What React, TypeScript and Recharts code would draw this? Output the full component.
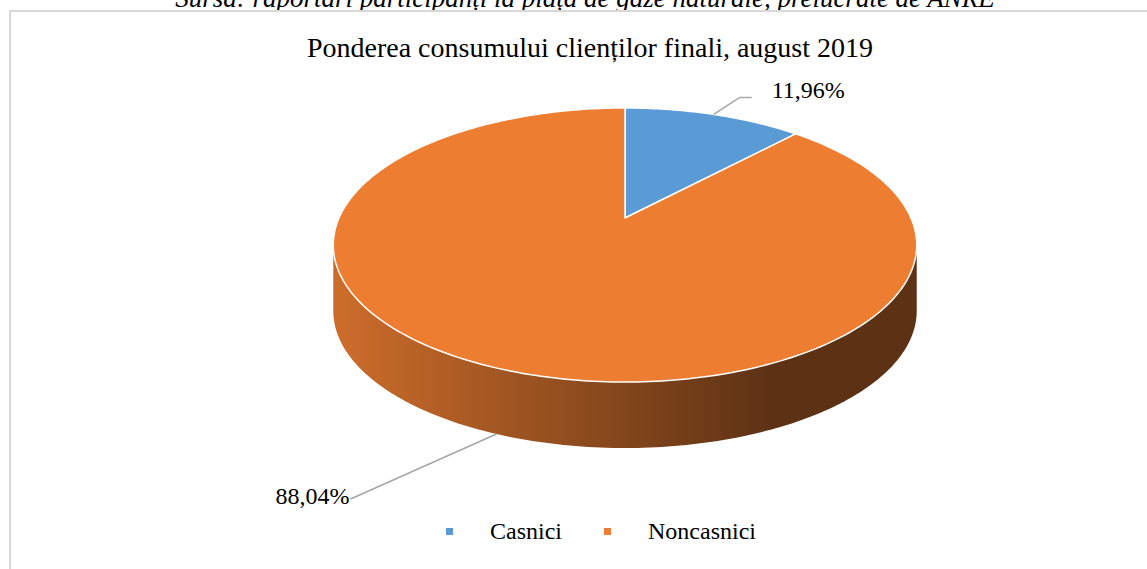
import React from 'react';
import { PieChart, Pie, Cell, Legend } from 'recharts';

const categories = ['Casnici', 'Noncasnici'];
const shares = [11.96, 88.04];
const sliceColors = ['#5b9bd5', '#ed7d31'];

const title = 'Ponderea consumului clienților finali, august 2019';
const source = 'Sursa: raportări participanți la piața de gaze naturale, prelucrate de ANRE';

const data = categories.map((name, i) => ({ name, value: shares[i] }));

const FONT = '"Liberation Serif", "Times New Roman", serif';

// the 3D pie is tilted and seen in perspective (near edge bigger than far edge)
const TILT = 0.4605;
const PERSP = 0.197;
const DEPTH = 66;

const project = (cx: number, cy: number, r: number, angle: number) => {
  const a = (angle * Math.PI) / 180;
  const u = Math.cos(a);
  const v = -Math.sin(a);
  const w = 1 - PERSP * v;
  return { x: cx + (r * u) / w, y: cy + (TILT * r * v) / w, v };
};

const arcPoints = (cx: number, cy: number, r: number, from: number, to: number, dy = 0) => {
  const n = Math.max(2, Math.ceil(Math.abs(to - from)));
  const pts: string[] = [];
  for (let i = 0; i <= n; i++) {
    const p = project(cx, cy, r, from + ((to - from) * i) / n);
    pts.push(`${p.x.toFixed(2)},${(p.y + dy).toFixed(2)}`);
  }
  return pts;
};

const TopFace = (props: any) => {
  const { cx, cy, outerRadius, startAngle, endAngle, fill } = props;
  const pts = arcPoints(cx, cy, outerRadius, startAngle, endAngle);
  return (
    <path
      d={`M${cx},${cy}L${pts.join('L')}Z`}
      fill={fill}
      stroke="#fff"
      strokeWidth={1.5}
      strokeLinejoin="round"
    />
  );
};

// front wall is visible between the two silhouette points of the rim
const SIL = (Math.asin(PERSP) * 180) / Math.PI;
const FRONT = [-180 + SIL, -SIL];

const SideWall = (props: any) => {
  const { cx, cy, outerRadius, startAngle, endAngle } = props;
  const lo = Math.min(startAngle, endAngle);
  const hi = Math.max(startAngle, endAngle);
  const parts: string[] = [];
  for (const shift of [-360, 0, 360]) {
    const a = Math.max(lo, FRONT[0] + shift);
    const b = Math.min(hi, FRONT[1] + shift);
    if (b > a) {
      const top = arcPoints(cx, cy, outerRadius, a, b);
      const bottom = arcPoints(cx, cy, outerRadius, b, a, DEPTH);
      parts.push(`M${top.join('L')}L${bottom.join('L')}Z`);
    }
  }
  if (!parts.length) return <g />;
  return <path d={parts.join('')} fill="url(#sideShade)" />;
};

// leader line: elbow offset, end offset, text offset, anchor
const leaders = [
  { elbow: [26, -17], end: [38, -17], text: [58, -24], anchor: 'start' },
  { elbow: [-146, 65], end: [-146, 65], text: [-147, 62], anchor: 'end' },
];

const renderLabel = (props: any) => {
  const { cx, cy, midAngle, outerRadius, index, value } = props;
  const p = project(cx, cy, outerRadius, midAngle);
  const x0 = p.x;
  const y0 = p.v > 0 ? p.y + DEPTH : p.y;
  const l = leaders[index];
  const pts = [
    [x0, y0],
    [x0 + l.elbow[0], y0 + l.elbow[1]],
    [x0 + l.end[0], y0 + l.end[1]],
  ];
  return (
    <g key={`lbl-${index}`}>
      <polyline points={pts.map((q) => q.join(',')).join(' ')} fill="none" stroke="#a6a6a6" strokeWidth={1.5} />
      <text
        x={x0 + l.text[0]}
        y={y0 + l.text[1]}
        textAnchor={l.anchor as any}
        dominantBaseline="central"
        fontFamily={FONT}
        fontSize={24}
        fill="#000"
      >
        {`${Number(value).toFixed(2).replace('.', ',')}%`}
      </text>
    </g>
  );
};

const LegendRow = () => (
  <div style={{ display: 'flex', alignItems: 'center', height: 24, fontFamily: FONT, fontSize: 24, color: '#000' }}>
    {categories.map((c, i) => (
      <div key={c} style={{ display: 'flex', alignItems: 'center', marginRight: i === 0 ? 42 : 0 }}>
        <span style={{ width: 7, height: 7, background: sliceColors[i], marginRight: 37 }} />
        <span>{c}</span>
      </div>
    ))}
  </div>
);

export default function App() {
  return (
    <div style={{ position: 'absolute', left: 0, top: 0, background: '#fff' }}>
      <PieChart width={1147} height={569} margin={{ top: 0, right: 0, bottom: 0, left: 0 }}>
        <defs>
          <linearGradient id="sideShade" x1="0" y1="0" x2="1" y2="0">
            <stop offset="0" stopColor="#cd6d2b" />
            <stop offset="0.75" stopColor="#5d3214" />
            <stop offset="1" stopColor="#5c3114" />
          </linearGradient>
        </defs>
        <text x={585} y={7} textAnchor="middle" fontFamily={FONT} fontStyle="italic" fontSize={27} fill="#000">
          {source}
        </text>
        <rect x={10} y={11} width={1200} height={600} fill="#fff" stroke="#d9d9d9" strokeWidth={2} />
        <text x={590} y={57} textAnchor="middle" fontFamily={FONT} fontSize={28} fill="#000">
          {title}
        </text>
        <Pie
          data={data}
          dataKey="value"
          nameKey="name"
          cx={625}
          cy={218}
          outerRadius={286}
          startAngle={90}
          endAngle={-270}
          isAnimationActive={false}
          legendType="none"
          shape={SideWall}
          activeShape={SideWall}
          inactiveShape={SideWall}
        >
          {data.map((d, i) => (
            <Cell key={`side-${d.name}`} fill={sliceColors[i]} />
          ))}
        </Pie>
        <Pie
          data={data}
          dataKey="value"
          nameKey="name"
          cx={625}
          cy={218}
          outerRadius={286}
          startAngle={90}
          endAngle={-270}
          isAnimationActive={false}
          shape={TopFace}
          activeShape={TopFace}
          inactiveShape={TopFace}
          label={renderLabel}
          labelLine={false}
        >
          {data.map((d, i) => (
            <Cell key={`top-${d.name}`} fill={sliceColors[i]} />
          ))}
        </Pie>
        <Legend verticalAlign="bottom" wrapperStyle={{ left: 446, bottom: 26, width: 'auto' }} content={LegendRow} />
      </PieChart>
    </div>
  );
}
